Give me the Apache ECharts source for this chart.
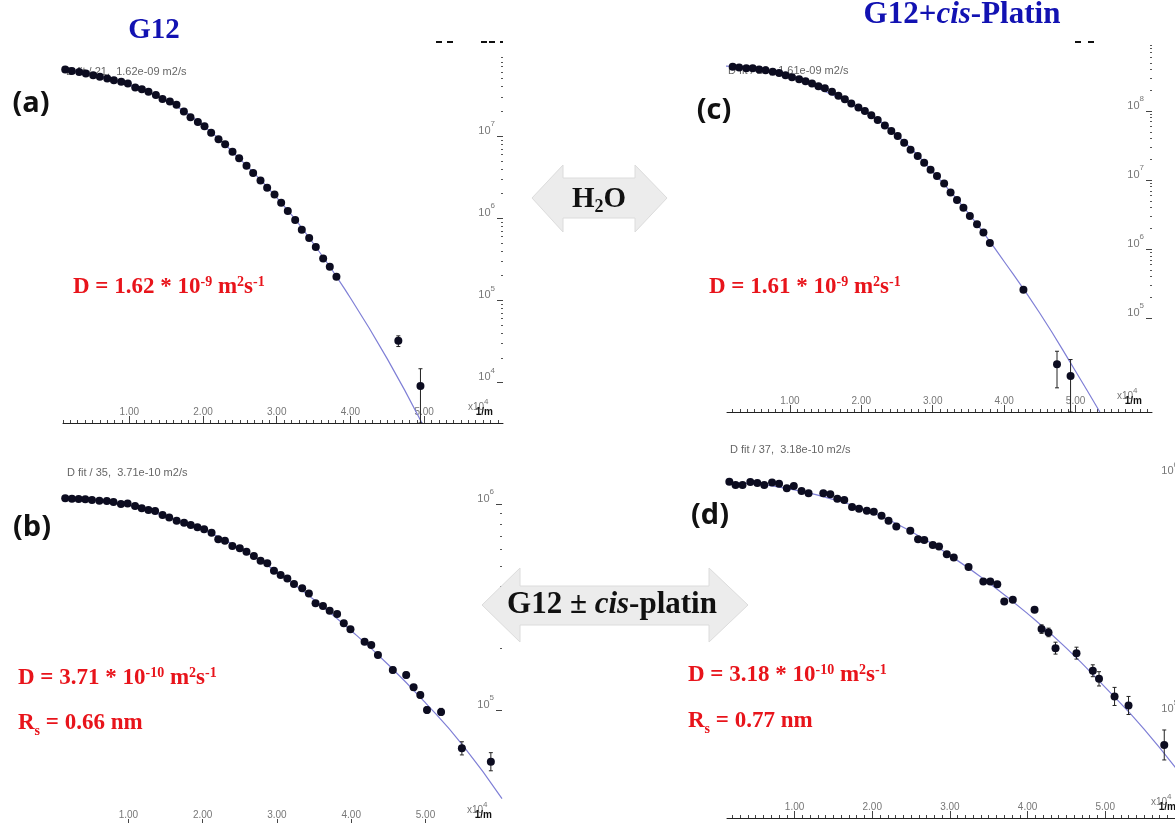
<!DOCTYPE html>
<html>
<head>
<meta charset="utf-8">
<script src="https://cdn.jsdelivr.net/npm/echarts@6/dist/echarts.min.js"></script>
<style>html,body{margin:0;padding:0;background:#fff}#main{width:1175px;height:823px}</style>
</head>
<body>
<div id="main"></div>
<script>
var myChart = echarts.init(document.getElementById('main'))

// x: 1/m (x10^4), y: log10 of signal intensity

// (a) G12 in H2O
var aX = [0.13,0.22,0.32,0.41,0.51,0.60,0.70,0.79,0.89,0.98,1.08,1.17,1.26,1.36,1.45,1.55,1.64,1.74,1.83,1.93,2.02,2.11,2.21,2.30,2.40,2.49,2.59,2.68,2.78,2.87,2.97,3.06,3.15,3.25,3.34,3.44,3.53,3.63,3.72,3.81,4.65,4.95]
var aY = [7.81,7.79,7.78,7.76,7.74,7.72,7.70,7.68,7.66,7.64,7.59,7.57,7.54,7.50,7.45,7.42,7.38,7.30,7.23,7.17,7.12,7.04,6.96,6.90,6.81,6.73,6.64,6.55,6.46,6.37,6.29,6.19,6.09,5.98,5.86,5.76,5.65,5.51,5.41,5.29,4.51,3.96]
var aErr = [[4.65,4.44,4.57],[4.95,3.51,4.17]]
var aFitX = [0.10,0.5,1.0,1.5,2.0,2.5,3.0,3.5,4.0,4.5,4.97]
var aFitY = [7.81,7.75,7.62,7.43,7.13,6.72,6.25,5.69,5.03,4.29,3.51]

// (c) G12 + cis-platin in H2O
var cX = [0.11,0.20,0.29,0.39,0.48,0.57,0.66,0.76,0.85,0.94,1.03,1.13,1.22,1.31,1.40,1.49,1.59,1.68,1.77,1.86,1.96,2.05,2.14,2.23,2.33,2.42,2.51,2.60,2.69,2.79,2.88,2.97,3.06,3.16,3.25,3.34,3.43,3.52,3.62,3.71,3.80,4.27,4.74,4.93]
var cY = [8.65,8.64,8.63,8.62,8.62,8.60,8.59,8.57,8.55,8.52,8.49,8.46,8.43,8.40,8.36,8.33,8.28,8.22,8.17,8.11,8.05,8.00,7.94,7.87,7.79,7.71,7.64,7.54,7.44,7.35,7.25,7.15,7.06,6.95,6.82,6.71,6.60,6.48,6.36,6.24,6.09,5.41,4.33,4.16]
var cErr = [[4.74,3.99,4.52],[4.93,3.64,4.40]]
var cFitX = [0.10,0.5,1.0,1.5,2.0,2.5,3.0,3.5,4.0,4.5,5.0,5.34]
var cFitY = [8.65,8.62,8.50,8.28,8.02,7.65,7.12,6.52,5.82,5.07,4.23,3.64]

// (b) G12
var bX = [0.15,0.24,0.33,0.42,0.51,0.61,0.71,0.80,0.90,0.99,1.09,1.18,1.27,1.36,1.46,1.55,1.65,1.75,1.84,1.93,2.02,2.12,2.21,2.30,2.40,2.50,2.59,2.69,2.78,2.87,2.96,3.05,3.14,3.23,3.34,3.43,3.52,3.62,3.71,3.81,3.90,3.99,4.18,4.27,4.36,4.56,4.74,4.84,4.93,5.02,5.21,5.49,5.88]
var bY = [6.028,6.026,6.024,6.023,6.019,6.016,6.015,6.010,6.000,6.003,5.990,5.979,5.971,5.966,5.947,5.935,5.919,5.909,5.898,5.887,5.877,5.861,5.829,5.822,5.796,5.785,5.768,5.748,5.725,5.712,5.676,5.655,5.639,5.612,5.591,5.566,5.518,5.505,5.482,5.466,5.421,5.392,5.332,5.316,5.267,5.194,5.170,5.110,5.073,5.000,4.991,4.814,4.749]
var bErr = [[4.56,5.180,5.208],[4.74,5.156,5.184],[4.84,5.096,5.124],[4.93,5.059,5.087],[5.02,4.985,5.015],[5.21,4.975,5.008],[5.49,4.782,4.846],[5.88,4.705,4.793]]
var bFitX = [0.15,0.5,1.0,1.5,2.0,2.5,3.0,3.5,4.0,4.5,5.0,5.5,6.03]
var bFitY = [6.03,6.02,5.995,5.94,5.875,5.785,5.67,5.535,5.385,5.22,5.035,4.83,4.57]

// (d) G12 + cis-platin
var dX = [0.16,0.24,0.33,0.43,0.52,0.61,0.71,0.80,0.90,0.99,1.09,1.18,1.37,1.46,1.55,1.64,1.74,1.83,1.93,2.02,2.12,2.21,2.31,2.49,2.59,2.67,2.78,2.86,2.96,3.05,3.24,3.43,3.52,3.61,3.70,3.81,4.09,4.18,4.27,4.36,4.63,4.84,4.92,5.12,5.30,5.76]
var dY = [5.980,5.966,5.966,5.978,5.974,5.966,5.976,5.971,5.952,5.962,5.941,5.931,5.931,5.927,5.908,5.903,5.873,5.866,5.858,5.853,5.837,5.816,5.791,5.774,5.738,5.735,5.714,5.707,5.675,5.661,5.621,5.560,5.560,5.549,5.476,5.483,5.441,5.360,5.346,5.280,5.259,5.185,5.151,5.077,5.039,4.873]
var dErr = [[4.18,5.342,5.378],[4.27,5.328,5.364],[4.36,5.255,5.305],[4.63,5.234,5.284],[4.84,5.160,5.210],[4.92,5.121,5.181],[5.12,5.039,5.115],[5.30,5.001,5.077],[5.76,4.810,4.936]]
var dFitX = [0.16,0.5,1.0,1.5,2.0,2.5,3.0,3.5,4.0,4.5,5.0,5.5,6.04]
var dFitY = [5.975,5.97,5.945,5.905,5.85,5.77,5.67,5.555,5.425,5.28,5.115,4.94,4.72]

// tick labels
var xTickLabels = [1, 2, 3, 4, 5]
var aDecades = [4, 5, 6, 7]
var cDecades = [5, 6, 7, 8]
var bDecades = [5, 6]
var dDecades = [5, 6]

var serif = 'Liberation Serif'
var sans = 'Liberation Sans'

var panels = [
  {x: aX, y: aY, err: aErr, fx: aFitX, fy: aFitY, dec: aDecades, ticks: [4, 8],
   grid: {left: 63, top: 42, width: 440, height: 381}, xr: [0.10, 6.07], yr: [3.51, 8.144]},
  {x: cX, y: cY, err: cErr, fx: cFitX, fy: cFitY, dec: cDecades, ticks: [5, 9],
   grid: {left: 727, top: 42, width: 425, height: 370}, xr: [0.12, 6.07], yr: [3.64, 9.0]},
  {x: bX, y: bY, err: bErr, fx: bFitX, fy: bFitY, dec: bDecades, ticks: [5, 6.1],
   grid: {left: 63, top: 455, width: 439, height: 371}, xr: [0.12, 6.03], yr: [4.437, 6.238]},
  {x: dX, y: dY, err: dErr, fx: dFitX, fy: dFitY, dec: dDecades, ticks: [4, 7],
   grid: {left: 727, top: 440, width: 459, height: 378}, xr: [0.13, 6.04], yr: [4.566, 6.155]}
]

function pairs(xs, ys) {
  return xs.map(function (x, i) { return [x, ys[i]] })
}
// log-spaced minor ticks (1..9 x 10^n)
function logTicks(from, to) {
  var t = []
  for (var n = Math.floor(from); n < to; n++) {
    for (var k = 1; k < 10; k++) {
      var v = n + Math.log10(k)
      if (v >= from && v < to) t.push(v)
    }
  }
  return t
}
function xTicks(min, max) {
  var t = []
  for (var i = Math.ceil(min * 10); i <= Math.floor(max * 10); i++) t.push(i / 10)
  return t
}

function renderErr(params, api) {
  var top = api.coord([api.value(0), api.value(2)])
  var bot = api.coord([api.value(0), api.value(1)])
  var st = {stroke: '#222', lineWidth: 1}
  return {type: 'group', children: [
    {type: 'line', shape: {x1: top[0], y1: top[1], x2: bot[0], y2: bot[1]}, style: st},
    {type: 'line', shape: {x1: top[0] - 2, y1: top[1], x2: top[0] + 2, y2: top[1]}, style: st},
    {type: 'line', shape: {x1: bot[0] - 2, y1: bot[1], x2: bot[0] + 2, y2: bot[1]}, style: st}
  ]}
}

var grids = [], xAxes = [], yAxes = [], series = []
panels.forEach(function (p, i) {
  grids.push(Object.assign({outerBoundsMode: 'none', containLabel: false}, p.grid))
  // main x axis: line, 0.1 ticks, labels
  xAxes.push({
    gridIndex: i, type: 'value', position: 'bottom', min: p.xr[0], max: p.xr[1],
    axisLine: {show: true, onZero: false, lineStyle: {color: '#222', width: 1}},
    axisTick: {show: true, inside: true, length: 3, customValues: xTicks(p.xr[0], p.xr[1]), lineStyle: {color: '#444'}},
    axisLabel: {show: true, inside: true, margin: 6, customValues: xTickLabels, color: '#777', fontSize: 10, fontFamily: sans,
      formatter: function (v) { return v.toFixed(2) }},
    splitLine: {show: false}
  })
  // integer ticks, a bit longer
  xAxes.push({
    gridIndex: i, type: 'value', position: 'bottom', min: p.xr[0], max: p.xr[1],
    axisLine: {show: false},
    axisTick: {show: true, inside: true, length: 7, customValues: xTickLabels, lineStyle: {color: '#444'}},
    axisLabel: {show: false}, splitLine: {show: false}
  })
  // minor log ticks on the right
  yAxes.push({
    gridIndex: i, type: 'value', position: 'right', min: p.yr[0], max: p.yr[1],
    axisLine: {show: false},
    axisTick: {show: true, inside: true, length: 2, customValues: logTicks(p.ticks[0], p.ticks[1]), lineStyle: {color: '#555'}},
    axisLabel: {show: false}, splitLine: {show: false}
  })
  // decades with 10^n labels
  yAxes.push({
    gridIndex: i, type: 'value', position: 'right', min: p.yr[0], max: p.yr[1],
    axisLine: {show: false},
    axisTick: {show: true, inside: true, length: 6, customValues: p.dec, lineStyle: {color: '#444'}},
    axisLabel: {show: true, inside: true, margin: 8, customValues: p.dec, verticalAlign: 'bottom',
      formatter: function (v) { return '{b|10}{s|' + Math.round(v) + '}' },
      rich: {
        b: {fontSize: 11, color: '#777', fontFamily: sans, lineHeight: 16, verticalAlign: 'bottom'},
        s: {fontSize: 8, color: '#777', fontFamily: sans, lineHeight: 9, verticalAlign: 'top'}
      }},
    splitLine: {show: false}
  })
  series.push({
    type: 'line', xAxisIndex: 2 * i, yAxisIndex: 2 * i, data: pairs(p.fx, p.fy),
    smooth: true, showSymbol: false, silent: true, z: 2,
    lineStyle: {color: '#7f7fd6', width: 1.2}
  })
  series.push({
    type: 'custom', xAxisIndex: 2 * i, yAxisIndex: 2 * i, data: p.err,
    renderItem: renderErr, silent: true, clip: true, z: 3
  })
  series.push({
    type: 'scatter', xAxisIndex: 2 * i, yAxisIndex: 2 * i, data: pairs(p.x, p.y),
    symbol: 'circle', symbolSize: 8, silent: true, z: 4,
    itemStyle: {color: '#0c0c20', opacity: 1}
  })
})

function tok(o) {
  return Object.assign({fontFamily: serif, fontWeight: 'bold'}, o)
}
var redRich = {
  t: tok({fontSize: 23, lineHeight: 24, verticalAlign: 'bottom'}),
  p: tok({fontSize: 14, lineHeight: 14, verticalAlign: 'top'})
}
var rsRich = {
  t: tok({fontSize: 23, lineHeight: 24, verticalAlign: 'top'}),
  b: tok({fontSize: 14, lineHeight: 15, padding: [12, 0, 0, 0], verticalAlign: 'top'})
}
var red = '#e8141b'
var blue = '#1212b2'

function text(x, y, str, font, fill, align, extra) {
  return Object.assign({type: 'text', z: 60,
    style: {x: x, y: y, text: str, font: font, fill: fill, align: align || 'center', verticalAlign: 'middle'}}, extra || {})
}
function richText(x, y, str, rich, fill, align) {
  return {type: 'text', z: 60,
    style: {x: x, y: y, text: str, rich: rich, fill: fill, align: align || 'left', verticalAlign: 'middle'}}
}
function arrow(pts) {
  return {type: 'polygon', z: 50, shape: {points: pts}, style: {fill: '#ececec', stroke: '#dcdcdc', lineWidth: 1}}
}

var gfx = []
// column titles
gfx.push(text(154, 31, 'G12', 'bold 29px ' + serif, blue))
gfx.push(richText(962, 15, '{n|G12+}{i|cis}{n|-Platin}', {
  n: tok({fontSize: 31}), i: tok({fontSize: 31, fontStyle: 'italic'})
}, blue, 'center'))
// panel letters
var letterFont = 'bold 29px "Open Sans"'
gfx.push(text(31, 104, '(a)', letterFont, '#111'))
gfx.push(text(714, 111, '(c)', letterFont, '#111'))
gfx.push(text(32, 528, '(b)', letterFont, '#111'))
gfx.push(text(710, 516, '(d)', letterFont, '#111'))
// fit captions from the instrument
var capFont = '11px ' + sans
gfx.push(text(66, 72, 'D fit / 21,  1.62e-09 m2/s', capFont, '#666', 'left', {z: 0}))
gfx.push(text(728, 71, 'D fit / 20,  1.61e-09 m2/s', capFont, '#666', 'left', {z: 0}))
gfx.push(text(67, 473, 'D fit / 35,  3.71e-10 m2/s', capFont, '#666', 'left', {z: 0}))
gfx.push(text(730, 450, 'D fit / 37,  3.18e-10 m2/s', capFont, '#666', 'left', {z: 0}))
// diffusion coefficients
gfx.push(richText(73, 287, '{t|D = 1.62 * 10}{p|-9}{t| m}{p|2}{t|s}{p|-1}', redRich, red))
gfx.push(richText(709, 287, '{t|D = 1.61 * 10}{p|-9}{t| m}{p|2}{t|s}{p|-1}', redRich, red))
gfx.push(richText(18, 678, '{t|D = 3.71 * 10}{p|-10}{t| m}{p|2}{t|s}{p|-1}', redRich, red))
gfx.push(richText(18, 724, '{t|R}{b|s}{t| = 0.66 nm}', rsRich, red))
gfx.push(richText(688, 675, '{t|D = 3.18 * 10}{p|-10}{t| m}{p|2}{t|s}{p|-1}', redRich, red))
gfx.push(richText(688, 722, '{t|R}{b|s}{t| = 0.77 nm}', rsRich, red))
// double arrows
gfx.push(arrow([[532, 198], [563, 165], [563, 178], [635, 178], [635, 165], [667, 198], [635, 232], [635, 218], [563, 218], [563, 232]]))
gfx.push(richText(599, 199, '{n|H}{s|2}{n|O}', {
  n: tok({fontSize: 29, lineHeight: 28, verticalAlign: 'top'}),
  s: tok({fontSize: 18, lineHeight: 18, padding: [13, 0, 0, 0], verticalAlign: 'top'})
}, '#111', 'center'))
gfx.push(arrow([[482, 605], [520, 568], [520, 586], [709, 586], [709, 568], [748, 605], [709, 642], [709, 625], [520, 625], [520, 642]]))
gfx.push(richText(612, 605, '{n|G12 \u00b1 }{i|cis}{n|-platin}', {
  n: tok({fontSize: 31}), i: tok({fontSize: 31, fontStyle: 'italic'})
}, '#111', 'center'))
// axis unit labels
var unitRich = {
  t: {fontFamily: sans, fontSize: 10, lineHeight: 14, verticalAlign: 'bottom'},
  s: {fontFamily: sans, fontSize: 8, lineHeight: 9, verticalAlign: 'top'}
}
panels.forEach(function (p) {
  var r = p.grid.left + p.grid.width, b = p.grid.top + p.grid.height
  gfx.push(richText(r - 35, b - 18, '{t|x10}{s|4}', unitRich, '#777'))
  gfx.push(text(r - 10, b - 11, '1/m', 'bold 10px ' + sans, '#111', 'right'))
})
// clipped marks along the top edge
;[[436, 6], [447, 6], [481, 6], [489, 6], [500, 3], [1075, 6], [1088, 6]].forEach(function (d) {
  gfx.push({type: 'rect', z: 5, shape: {x: d[0], y: 41, width: d[1], height: 2}, style: {fill: '#111'}})
})

var option = {
  backgroundColor: '#fff',
  animation: false,
  grid: grids,
  xAxis: xAxes,
  yAxis: yAxes,
  series: series,
  graphic: {elements: gfx}
}

myChart.setOption(option)
</script>
</body>
</html>
